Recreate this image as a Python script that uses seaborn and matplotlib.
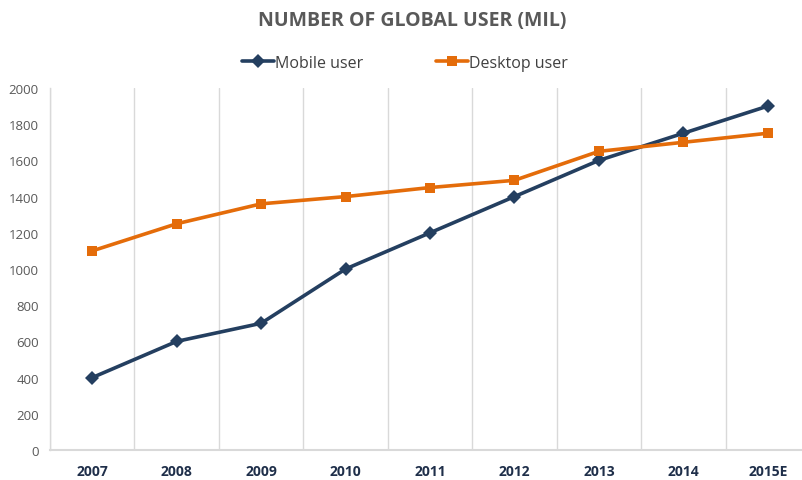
import pandas as pd
import matplotlib.pyplot as plt
import seaborn as sns
from matplotlib.ticker import MultipleLocator

years = ['2007', '2008', '2009', '2010', '2011', '2012', '2013', '2014', '2015E']
mobile_users = [400, 600, 700, 1000, 1200, 1400, 1600, 1750, 1900]
desktop_users = [1100, 1250, 1360, 1400, 1450, 1490, 1650, 1700, 1750]

df = pd.DataFrame({'year': years, 'Mobile user': mobile_users, 'Desktop user': desktop_users})
df['pos'] = range(len(df))
df_long = df.melt(id_vars=['year', 'pos'], var_name='series', value_name='users')

sns.set_style('white')
plt.rcParams['font.family'] = ['Open Sans', 'DejaVu Sans']

navy = '#243F60'
orange = '#E46C0A'
grid_col = '#D9D9D9'

fig = plt.figure(figsize=(8.03, 4.81), dpi=100)
ax = fig.add_axes([50 / 803, 1 - 451 / 481, 760 / 803, (451 - 89) / 481])

sns.lineplot(data=df_long, x='pos', y='users', hue='series', style='series',
             palette={'Mobile user': navy, 'Desktop user': orange},
             markers={'Mobile user': 'D', 'Desktop user': 's'},
             dashes=False, linewidth=2.6, markersize=7, markeredgewidth=0,
             ax=ax)

ax.set_xlim(-0.5, len(years) - 0.5)
ax.set_ylim(0, 2000)
ax.yaxis.set_major_locator(MultipleLocator(200))
ax.set_xticks(range(len(years)))
ax.set_xticklabels(years, fontweight='bold', fontsize=10, color='#1F2F4A')
ax.set_xticks([i + 0.5 for i in range(-1, len(years))], minor=True)
ax.grid(True, which='minor', axis='x', color=grid_col, linewidth=1)
ax.grid(False, which='major')
ax.tick_params(axis='y', labelsize=9.5, labelcolor='#595959', length=0, pad=8)
ax.tick_params(axis='x', which='both', length=0, pad=10)
for s in ['top', 'right']:
    ax.spines[s].set_visible(False)
ax.spines['left'].set_color(grid_col)
ax.spines['left'].set_linewidth(1)
ax.spines['bottom'].set_color(grid_col)
ax.spines['bottom'].set_linewidth(1.5)
ax.set_xlabel('')
ax.set_ylabel('')

handles, labels = ax.get_legend_handles_labels()
ax.legend(handles, labels, loc='center', bbox_to_anchor=(405 / 803, 1 - 64 / 481),
          bbox_transform=fig.transFigure, ncol=2, frameon=False, fontsize=11.5,
          labelcolor='#404040', handlelength=2.0, handletextpad=0.1, columnspacing=4.5)

fig.text(412 / 803, 1 - 21 / 481, 'NUMBER OF GLOBAL USER (MIL)', ha='center', va='center',
         fontsize=14, fontweight='bold', color='#595959')

fig.savefig('out.png', dpi=100)
